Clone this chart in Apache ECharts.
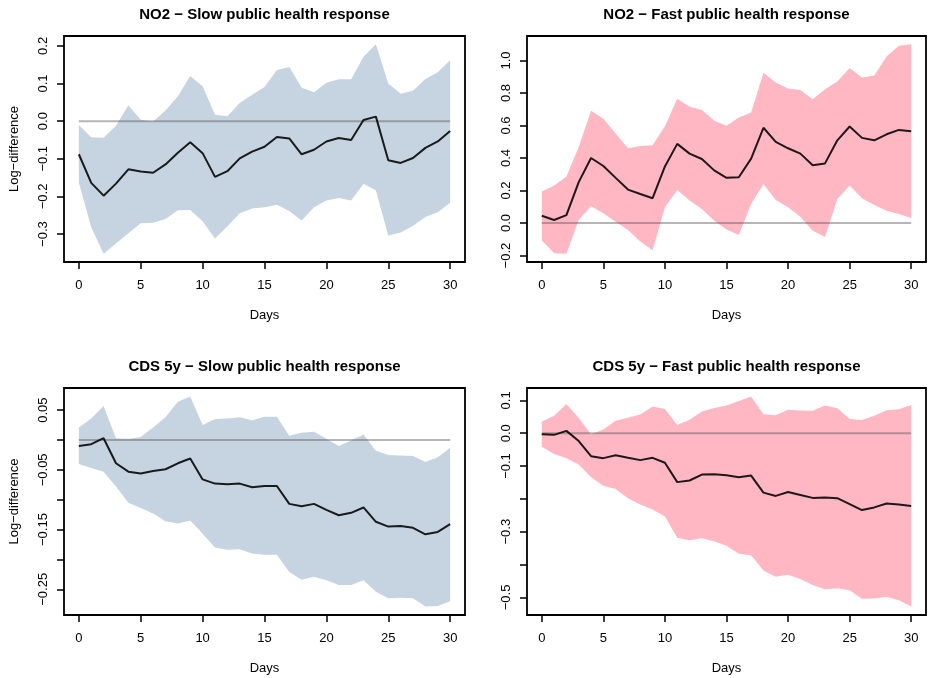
<!DOCTYPE html>
<html>
<head>
<meta charset="utf-8">
<script src="https://cdn.jsdelivr.net/npm/echarts@6/dist/echarts.min.js"></script>
<style>
  html, body { margin: 0; padding: 0; background: #fff; }
  #chart { width: 928px; height: 678px; }
</style>
</head>
<body>
<div id="chart"></div>
<script>
// Impulse responses (log-difference) over 30 days, with confidence bands
const days = [0,1,2,3,4,5,6,7,8,9,10,11,12,13,14,15,16,17,18,19,20,21,22,23,24,25,26,27,28,29,30];

const no2SlowMean  = [-0.088,-0.164,-0.198,-0.166,-0.128,-0.134,-0.137,-0.115,-0.084,-0.056,-0.085,-0.148,-0.133,-0.099,-0.081,-0.068,-0.042,-0.046,-0.088,-0.076,-0.054,-0.045,-0.050,0.003,0.012,-0.104,-0.111,-0.098,-0.071,-0.054,-0.026];
const no2SlowUpper = [-0.010,-0.043,-0.044,-0.012,0.042,0.004,-0.001,0.028,0.066,0.120,0.093,0.017,0.013,0.048,0.070,0.091,0.136,0.144,0.089,0.077,0.102,0.111,0.111,0.171,0.204,0.100,0.073,0.081,0.112,0.130,0.162];
const no2SlowLower = [-0.164,-0.282,-0.352,-0.325,-0.298,-0.271,-0.270,-0.260,-0.237,-0.236,-0.266,-0.312,-0.279,-0.245,-0.232,-0.229,-0.222,-0.239,-0.264,-0.229,-0.211,-0.204,-0.211,-0.166,-0.184,-0.304,-0.296,-0.278,-0.255,-0.242,-0.217];

const no2FastMean  = [0.045,0.019,0.049,0.252,0.400,0.351,0.278,0.206,0.179,0.153,0.348,0.487,0.427,0.394,0.324,0.278,0.282,0.396,0.586,0.499,0.460,0.427,0.355,0.367,0.509,0.594,0.524,0.509,0.546,0.573,0.565];
const no2FastUpper = [0.194,0.231,0.287,0.468,0.691,0.641,0.551,0.460,0.474,0.478,0.596,0.765,0.715,0.695,0.629,0.598,0.649,0.680,0.924,0.864,0.827,0.819,0.761,0.823,0.870,0.953,0.895,0.907,1.025,1.091,1.099];
const no2FastLower = [-0.105,-0.186,-0.188,0.021,0.103,0.060,0.008,-0.043,-0.113,-0.167,0.097,0.204,0.138,0.087,0.014,-0.039,-0.074,0.118,0.241,0.142,0.097,0.039,-0.047,-0.085,0.148,0.231,0.153,0.111,0.076,0.056,0.031];

const cdsSlowMean  = [-0.010,-0.007,0.003,-0.039,-0.053,-0.056,-0.052,-0.049,-0.039,-0.031,-0.066,-0.073,-0.074,-0.073,-0.079,-0.077,-0.077,-0.107,-0.111,-0.107,-0.117,-0.126,-0.122,-0.113,-0.137,-0.145,-0.144,-0.147,-0.158,-0.154,-0.141];
const cdsSlowUpper = [0.021,0.036,0.057,0.003,0.002,0.005,0.021,0.038,0.064,0.073,0.025,0.035,0.036,0.038,0.033,0.039,0.039,0.007,0.012,0.014,0.002,-0.010,-0.001,0.009,-0.018,-0.025,-0.026,-0.027,-0.037,-0.029,-0.013];
const cdsSlowLower = [-0.040,-0.047,-0.053,-0.078,-0.105,-0.114,-0.123,-0.136,-0.140,-0.135,-0.157,-0.180,-0.184,-0.183,-0.190,-0.192,-0.192,-0.221,-0.234,-0.229,-0.235,-0.243,-0.243,-0.235,-0.254,-0.265,-0.264,-0.265,-0.279,-0.278,-0.270];

const cdsFastMean  = [-0.003,-0.005,0.007,-0.024,-0.070,-0.076,-0.067,-0.075,-0.082,-0.075,-0.090,-0.149,-0.144,-0.126,-0.125,-0.128,-0.134,-0.129,-0.181,-0.191,-0.179,-0.188,-0.197,-0.196,-0.198,-0.216,-0.234,-0.226,-0.214,-0.217,-0.222];
const cdsFastUpper = [0.035,0.053,0.089,0.046,-0.003,0.011,0.038,0.047,0.057,0.081,0.074,0.025,0.041,0.066,0.077,0.084,0.098,0.112,0.058,0.055,0.071,0.069,0.068,0.084,0.076,0.043,0.040,0.053,0.070,0.073,0.086];
const cdsFastLower = [-0.041,-0.063,-0.076,-0.095,-0.134,-0.160,-0.170,-0.198,-0.217,-0.232,-0.254,-0.318,-0.326,-0.320,-0.329,-0.343,-0.367,-0.372,-0.418,-0.437,-0.431,-0.444,-0.462,-0.475,-0.472,-0.478,-0.504,-0.503,-0.498,-0.509,-0.528];

// Axis ticks and which of them carry a label
const dayTicks = [0, 5, 10, 15, 20, 25, 30];
const no2SlowTicks = [-0.3, -0.2, -0.1, 0, 0.1, 0.2];
const no2SlowLabels = [-0.3, -0.2, -0.1, 0, 0.1, 0.2];
const no2FastTicks = [-0.2, 0, 0.2, 0.4, 0.6, 0.8, 1.0];
const no2FastLabels = [-0.2, 0, 0.2, 0.4, 0.6, 0.8, 1.0];
const cdsSlowTicks = [-0.25, -0.2, -0.15, -0.1, -0.05, 0, 0.05];
const cdsSlowLabels = [-0.25, -0.15, -0.05, 0.05];
const cdsFastTicks = [-0.5, -0.4, -0.3, -0.2, -0.1, 0, 0.1];
const cdsFastLabels = [-0.5, -0.3, -0.1, 0, 0.1];

const titles = [
  'NO2 \u2212 Slow public health response',
  'NO2 \u2212 Fast public health response',
  'CDS 5y \u2212 Slow public health response',
  'CDS 5y \u2212 Fast public health response'
];

const SLOW_FILL = '#c6d4e1';
const FAST_FILL = '#ffb7c3';
const FONT = "'Liberation Sans', Arial, Helvetica, sans-serif";
const AXIS_FONT_SIZE = 13;

const panels = [
  { title: titles[0], mean: no2SlowMean, upper: no2SlowUpper, lower: no2SlowLower, ticks: no2SlowTicks, labels: no2SlowLabels, digits: 1, fill: SLOW_FILL, yName: 'Log\u2212difference', box: { left: 64, top: 36, width: 401, height: 226 } },
  { title: titles[1], mean: no2FastMean, upper: no2FastUpper, lower: no2FastLower, ticks: no2FastTicks, labels: no2FastLabels, digits: 1, fill: FAST_FILL, yName: '', box: { left: 527, top: 36, width: 399, height: 226 } },
  { title: titles[2], mean: cdsSlowMean, upper: cdsSlowUpper, lower: cdsSlowLower, ticks: cdsSlowTicks, labels: cdsSlowLabels, digits: 2, fill: SLOW_FILL, yName: 'Log\u2212difference', box: { left: 64, top: 388, width: 401, height: 227 } },
  { title: titles[3], mean: cdsFastMean, upper: cdsFastUpper, lower: cdsFastLower, ticks: cdsFastTicks, labels: cdsFastLabels, digits: 1, fill: FAST_FILL, yName: '', box: { left: 527, top: 388, width: 399, height: 227 } }
];

function fmt(v, digits) {
  const s = Math.abs(v).toFixed(digits);
  return (v < 0 && Number(s) !== 0 ? '\u2212' : '') + s;
}

// Plot range padded by 4% of the data span on each side
function paddedRange(lo, hi) {
  const span = hi - lo;
  return [lo - 0.04 * span, hi + 0.04 * span];
}

const xPad = paddedRange(days[0], days[days.length - 1]);

const option = {
  animation: false,
  backgroundColor: '#ffffff',
  textStyle: { fontFamily: FONT },
  title: [],
  grid: [],
  xAxis: [],
  yAxis: [],
  series: []
};

// Band polygon: upper edge left to right, then lower edge right to left
function bandRenderer(p) {
  return function (params, api) {
    if (params.dataIndex !== 0) return null;
    const pts = [];
    for (let k = 0; k < days.length; k++) pts.push(api.coord([days[k], p.upper[k]]));
    for (let k = days.length - 1; k >= 0; k--) pts.push(api.coord([days[k], p.lower[k]]));
    return { type: 'polygon', shape: { points: pts }, style: { fill: p.fill }, silent: true };
  };
}

panels.forEach((p, i) => {
  const b = p.box;
  option.title.push({
    text: p.title,
    left: b.left + b.width / 2,
    top: b.top - 29,
    textAlign: 'center',
    padding: 0,
    textStyle: { fontFamily: FONT, fontSize: 15, fontWeight: 'bold', color: '#000' }
  });
  option.grid.push({
    left: b.left, top: b.top, width: b.width, height: b.height,
    show: true, borderColor: '#000', borderWidth: 1.8, backgroundColor: 'transparent'
  });
  option.xAxis.push({
    type: 'value', gridIndex: i, min: xPad[0], max: xPad[1],
    name: 'Days', nameLocation: 'middle', nameGap: 47,
    nameTextStyle: { fontFamily: FONT, fontSize: AXIS_FONT_SIZE, color: '#000' },
    axisLine: { show: false, onZero: false },
    axisTick: { show: true, inside: false, length: 7, customValues: dayTicks, lineStyle: { color: '#000', width: 1.5 } },
    axisLabel: { show: true, margin: 17, customValues: dayTicks, fontFamily: FONT, fontSize: AXIS_FONT_SIZE, color: '#000',
      formatter: v => String(v) },
    splitLine: { show: false }
  });
  const yr = paddedRange(Math.min(...p.lower), Math.max(...p.upper));
  option.yAxis.push({
    type: 'value', gridIndex: i, min: yr[0], max: yr[1],
    name: p.yName, nameLocation: 'middle', nameGap: 43, nameRotate: 90,
    nameTextStyle: { fontFamily: FONT, fontSize: AXIS_FONT_SIZE, color: '#000' },
    axisLine: { show: false, onZero: false },
    axisTick: { show: true, inside: false, length: 7, customValues: p.ticks, lineStyle: { color: '#000', width: 1.5 } },
    axisLabel: { show: true, rotate: 90, margin: 14, customValues: p.labels, fontFamily: FONT, fontSize: AXIS_FONT_SIZE, color: '#000',
      formatter: v => fmt(v, p.digits) },
    splitLine: { show: false }
  });

  option.series.push({
    type: 'custom', xAxisIndex: i, yAxisIndex: i,
    data: days.map((d, k) => [d, p.lower[k], p.upper[k]]),
    encode: { x: 0, y: [1, 2] },
    renderItem: bandRenderer(p), silent: true, z: 1
  });
  // Zero reference line
  option.series.push({
    type: 'line', xAxisIndex: i, yAxisIndex: i,
    data: days.map(d => [d, 0]),
    symbol: 'none', silent: true, lineStyle: { color: 'rgba(90,90,90,0.45)', width: 2 }, z: 2
  });
  // Point estimate
  option.series.push({
    type: 'line', xAxisIndex: i, yAxisIndex: i,
    data: days.map((d, k) => [d, p.mean[k]]),
    symbol: 'none', silent: true, lineStyle: { color: 'rgba(0,0,0,0.88)', width: 2 }, z: 3
  });
});

const chart = echarts.init(document.getElementById('chart'), null, { renderer: 'canvas' });
chart.setOption(option);
</script>
</body>
</html>
